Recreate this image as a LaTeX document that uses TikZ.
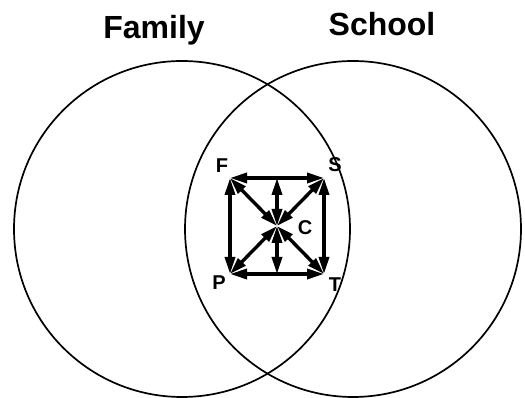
\documentclass[tikz,border=0pt]{standalone}
\usepackage{fontspec}
\setmainfont{Liberation Sans}
\usetikzlibrary{arrows.meta}

\begin{document}
\begin{tikzpicture}[x=1pt, y=1pt,
    ring/.style={draw, circle, line width=1.7pt, minimum size=336pt, inner sep=0pt},
    title/.style={anchor=base, font=\fontsize{32}{36}\selectfont\bfseries},
    letter/.style={font=\fontsize{20}{22}\selectfont\bfseries, inner sep=0pt},
    arr/.style={{Triangle[length=17pt,width=10pt]}-{Triangle[length=17pt,width=10pt]}, line width=3.4pt}
]
\useasboundingbox (0,0) rectangle (525,398);

\node[ring] (family) at (182,169) {};
\node[ring] (school) at (353,169) {};
\node[title] (famtitle) at (154,359) {Family};
\node[title] (schtitle) at (382,362) {School};

\coordinate (f) at (230,220);
\coordinate (s) at (324,220);
\coordinate (p) at (230,124);
\coordinate (t) at (324,124);
\coordinate (c) at (277,172);
\coordinate (top) at (277,220);
\coordinate (bot) at (277,124);

\node[letter] (flab) at (222,232) {F};
\node[letter] (slab) at (335,233) {S};
\node[letter] (plab) at (219,115) {P};
\node[letter] (tlab) at (335,113) {T};
\node[letter] (clab) at (305,170) {C};

\draw[arr] (f) -- (s);
\draw[arr] (p) -- (t);
\draw[arr] (f) -- (p);
\draw[arr] (s) -- (t);
\draw[arr] (f) -- (c);
\draw[arr] (s) -- (c);
\draw[arr] (p) -- (c);
\draw[arr] (t) -- (c);
\draw[arr] (top) -- (c);
\draw[arr] (bot) -- (c);
\end{tikzpicture}
\end{document}
